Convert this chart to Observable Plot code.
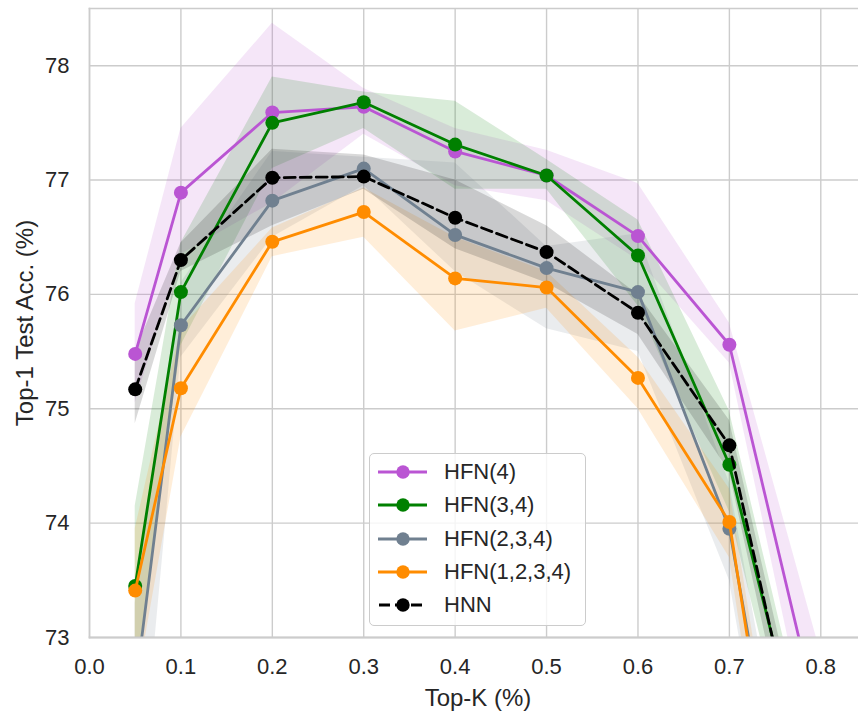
<!DOCTYPE html>
<html>
<head>
<meta charset="utf-8">
<script src="https://cdn.jsdelivr.net/npm/d3@7"></script>
<script src="https://cdn.jsdelivr.net/npm/@observablehq/plot@0.6"></script>
<style>
  html, body { margin: 0; padding: 0; background: #fff; overflow: hidden; }
  #wrap { position: relative; width: 858px; height: 715px; overflow: hidden; font-family: "Liberation Sans", Arial, sans-serif; }
  #chart svg { max-width: none !important; display: block; }
  #legend { position: absolute; left: 369px; top: 453px; width: 217px; height: 173px; box-sizing: border-box;
            border: 1.3px solid #cccccc; border-radius: 5px; background: rgba(255,255,255,0.8); }
  .row { position: absolute; left: 0; width: 100%; height: 26px; }
  .row svg { position: absolute; left: 7px; top: 0; }
  .row span { position: absolute; left: 74px; top: 0; font-size: 22px; line-height: 26px; color: #262626; white-space: nowrap; }
</style>
</head>
<body>
<div id="wrap"><div id="chart"></div><div id="legend"></div></div>
<script>
// ---- data ----
const topK = [0.05, 0.1, 0.2, 0.3, 0.4, 0.5, 0.6, 0.7, 0.8];

const hfn4     = [75.48, 76.89, 77.59, 77.64, 77.25, 77.04, 76.51, 75.56, 72.19];
const hfn4Lo   = [75.05, 76.35, 76.80, 77.40, 76.95, 76.82, 76.30, 75.40, 71.65];
const hfn4Hi   = [75.92, 77.45, 78.37, 77.80, 77.45, 77.26, 76.97, 75.75, 72.86];

const hfn34    = [73.45, 76.02, 77.50, 77.68, 77.31, 77.04, 76.34, 74.51, 71.30];
const hfn34Lo  = [72.60, 75.55, 77.10, 77.45, 76.92, 76.92, 75.90, 74.10, 70.86];
const hfn34Hi  = [74.15, 76.45, 77.90, 77.77, 77.69, 77.18, 76.65, 74.98, 71.62];

const hfn234   = [72.54, 75.73, 76.82, 77.10, 76.52, 76.23, 76.02, 73.95, 69.43];
const hfn234Lo = [71.10, 75.45, 76.50, 76.95, 76.20, 75.70, 75.50, 73.50, 68.90];
const hfn234Hi = [73.30, 76.10, 77.25, 77.20, 77.15, 76.42, 76.53, 74.35, 70.00];

const hfn1234   = [73.41, 75.18, 76.46, 76.72, 76.14, 76.06, 75.27, 74.01, 68.88];
const hfn1234Lo = [72.50, 74.75, 76.33, 76.50, 75.68, 75.88, 75.00, 73.70, 68.50];
const hfn1234Hi = [73.95, 75.70, 76.58, 76.93, 76.50, 76.20, 75.45, 74.30, 69.30];

const hnn   = [75.17, 76.30, 77.02, 77.03, 76.67, 76.37, 75.84, 74.68, 71.11];
const hnnLo = [74.87, 76.20, 76.60, 76.92, 76.40, 76.10, 75.65, 74.45, 70.80];
const hnnHi = [75.50, 76.45, 77.27, 77.22, 77.00, 76.60, 76.00, 74.90, 71.40];

const seriesNames  = ["HFN(4)", "HFN(3,4)", "HFN(2,3,4)", "HFN(1,2,3,4)", "HNN"];
const seriesColors = ["#BA55D3", "#008000", "#708090", "#FF8C00", "#000000"];
const seriesDash   = [null, null, null, null, "11,5"];
const means = [hfn4, hfn34, hfn234, hfn1234, hnn];
const lows  = [hfn4Lo, hfn34Lo, hfn234Lo, hfn1234Lo, hnnLo];
const highs = [hfn4Hi, hfn34Hi, hfn234Hi, hfn1234Hi, hnnHi];

const xTicks = [0.0, 0.1, 0.2, 0.3, 0.4, 0.5, 0.6, 0.7, 0.8];
const yTicks = [73, 74, 75, 76, 77, 78];
const xLabel = "Top-K (%)";
const yLabel = "Top-1 Test Acc. (%)";

// ---- build tables ----
const tables = seriesNames.map((name, s) =>
  topK.map((k, i) => ({series: name, k, mean: means[s][i], lo: lows[s][i], hi: highs[s][i]}))
);

const grid = "#cccccc";
const marks = [
  Plot.gridX({ticks: xTicks, stroke: grid, strokeOpacity: 1, strokeWidth: 1.4}),
  Plot.gridY({ticks: yTicks, stroke: grid, strokeOpacity: 1, strokeWidth: 1.4}),
];
tables.forEach((t, s) => {
  marks.push(Plot.areaY(t, {x: "k", y1: "lo", y2: "hi", fill: seriesColors[s], fillOpacity: 0.15, clip: true}));
});
tables.forEach((t, s) => {
  marks.push(Plot.line(t, {x: "k", y: "mean", stroke: seriesColors[s], strokeWidth: 2.8,
    strokeDasharray: seriesDash[s] ?? undefined, clip: true}));
  marks.push(Plot.dot(t, {x: "k", y: "mean", r: 7, fill: seriesColors[s], stroke: "none", clip: true}));
});
marks.push(
  Plot.frame({anchor: "left", stroke: grid, strokeWidth: 1.6}),
  Plot.frame({anchor: "top", stroke: grid, strokeWidth: 1.6}),
  Plot.frame({anchor: "bottom", stroke: grid, strokeWidth: 1.8}),
  Plot.axisX({ticks: xTicks, tickSize: 0, tickPadding: 21, tickFormat: d3.format(".1f"), fontSize: 22, label: null}),
  Plot.axisY({ticks: yTicks, tickSize: 0, tickPadding: 20, tickFormat: d3.format("d"), fontSize: 22, label: null}),
  Plot.text([xLabel], {frameAnchor: "bottom", textAnchor: "middle", lineAnchor: "top", dy: 51, fontSize: 24, text: d => d, fill: "#262626"}),
  Plot.text([yLabel], {frameAnchor: "left", textAnchor: "middle", lineAnchor: "bottom", rotate: -90, dx: -57, fontSize: 24, text: d => d, fill: "#262626"})
);

const chart = Plot.plot({
  width: 866,
  height: 715,
  marginLeft: 89,
  marginRight: 0,
  marginTop: 8,
  marginBottom: 78,
  x: {domain: [0, 0.85]},
  y: {domain: [73, 78.5]},
  style: {fontFamily: '"Liberation Sans", Arial, sans-serif', color: "#262626", background: "white", overflow: "visible"},
  marks
});
chart.style.maxWidth = "none";
document.getElementById("chart").appendChild(chart);

// ---- legend ----
const legend = document.getElementById("legend");
seriesNames.forEach((name, s) => {
  const row = document.createElement("div");
  row.className = "row";
  row.style.top = (18 + 33.3 * s - 13) + "px";
  const dash = seriesDash[s] ? `stroke-dasharray="11,5" stroke-dashoffset="-1"` : "";
  row.innerHTML = `<svg width="52" height="26"><line x1="1" y1="13" x2="50" y2="13" stroke="${seriesColors[s]}" stroke-width="2.8" ${dash}/>` +
    `<circle cx="26" cy="13" r="6.7" fill="${seriesColors[s]}"/></svg><span>${name}</span>`;
  legend.appendChild(row);
});
</script>
</body>
</html>
